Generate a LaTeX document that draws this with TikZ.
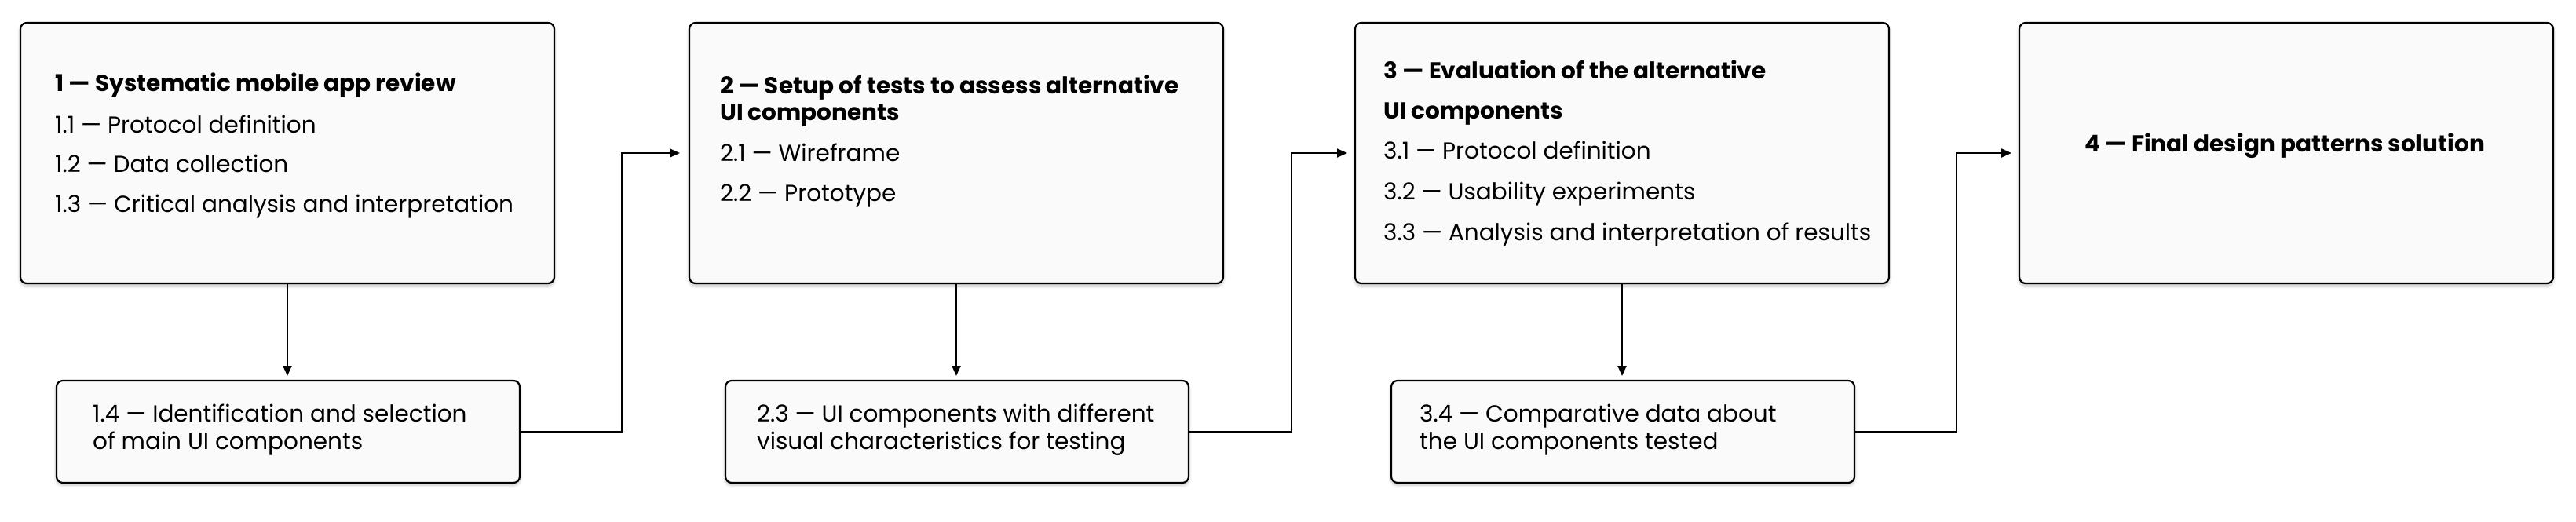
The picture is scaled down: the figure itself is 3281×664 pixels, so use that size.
\documentclass[tikz,border=0pt]{standalone}
\usepackage{fontspec}
\setmainfont{Poppins}
\usetikzlibrary{arrows.meta,shadows.blur}
\definecolor{boxfill}{HTML}{FAFAFA}
\tikzset{
  box/.style={draw=black, line width=2.2pt, fill=boxfill, rounded corners=8pt,
    blur shadow={shadow xshift=0pt, shadow yshift=-3pt, shadow blur radius=4pt, shadow opacity=25},
    inner sep=0pt, outer sep=0pt},
  bigbox/.style={box, minimum width=680pt, minimum height=332pt},
  smallbox/.style={box, minimum width=590pt, minimum height=130pt},
  txt/.style={anchor=base west, inner sep=0pt, font=\fontsize{29.5}{35}\selectfont},
  ttl/.style={txt, font=\fontsize{29.5}{35}\selectfont\bfseries},
  conn/.style={draw=black, line width=2.2pt},
  arr/.style={conn, -{Triangle[length=13pt,width=11pt]}},
}
\begin{document}
\begin{tikzpicture}[x=1pt,y=-1pt]
\useasboundingbox (0,0) rectangle (3281,664);
% upper boxes
\node[bigbox] (b1) at (366,195) {};
\node[bigbox] (b2) at (1218,195) {};
\node[bigbox] (b3) at (2066,195) {};
\node[bigbox] (b4) at (2912,195) {};
% lower boxes
\node[smallbox] (b14) at (367,550) {};
\node[smallbox] (b23) at (1219,550) {};
\node[smallbox] (b34) at (2067,550) {};
% texts box 1
\node[ttl] (t1) at (70,116) {1 — Systematic mobile app review};
\node[txt] (t11) at (70,169) {1.1 — Protocol definition};
\node[txt] (t12) at (70,219) {1.2 — Data collection};
\node[txt] (t13) at (70,270) {1.3 — Critical analysis and interpretation};
% texts box 2
\node[ttl] (t2a) at (917,119) {2 — Setup of tests to assess alternative};
\node[ttl] (t2b) at (917,153) {UI components};
\node[txt] (t21) at (917,205) {2.1 — Wireframe};
\node[txt] (t22) at (917,256) {2.2 — Prototype};
% texts box 3
\node[ttl] (t3a) at (1762,100) {3 — Evaluation of the alternative};
\node[ttl] (t3b) at (1762,151) {UI components};
\node[txt] (t31) at (1762,202) {3.1 — Protocol definition};
\node[txt] (t32) at (1762,254) {3.2 — Usability experiments};
\node[txt] (t33) at (1762,306) {3.3 — Analysis and interpretation of results};
% text box 4
\node[ttl, anchor=base] (t4) at (2910,193) {4 — Final design patterns solution};
% lower texts
\node[txt] (t14a) at (118,537) {1.4 — Identification and selection};
\node[txt] (t14b) at (118,572) {of main UI components};
\node[txt] (t23a) at (964,537) {2.3 — UI components with different};
\node[txt] (t23b) at (964,572) {visual characteristics for testing};
\node[txt] (t34a) at (1808,537) {3.4 — Comparative data about};
\node[txt] (t34b) at (1808,572) {the UI components tested};
% connectors
\draw[arr, shorten >=6pt] (b1.south) -- (b1.south |- b14.north);
\draw[arr, shorten >=6pt] (b2.south) -- (b2.south |- b23.north);
\draw[arr, shorten >=6pt] (b3.south) -- (b3.south |- b34.north);
\coordinate (k1) at (792,550);
\coordinate (k2) at (1645,550);
\coordinate (k3) at (2492,550);
\draw[arr, shorten >=12pt] (b14.east) -- (k1) |- (b2.west);
\draw[arr, shorten >=10pt] (b23.east) -- (k2) |- (b3.west);
\draw[arr, shorten >=10pt] (b34.east) -- (k3) |- (b4.west);
\end{tikzpicture}
\end{document}
